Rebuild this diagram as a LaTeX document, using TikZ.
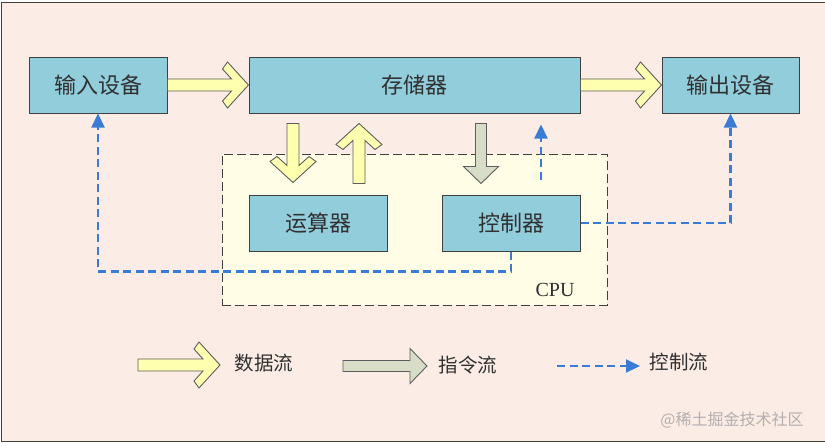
\documentclass[tikz,border=0pt]{standalone}
\usepackage{fontspec}
\setmainfont{Liberation Serif}
\newfontfamily\cjk{Noto Sans CJK SC}
\usetikzlibrary{calc,arrows.meta}
\definecolor{bgpeach}{HTML}{FBEDE5}
\definecolor{cpufill}{HTML}{FFFDE6}
\definecolor{boxblue}{HTML}{92CDDC}
\definecolor{datayellow}{HTML}{FFFFB0}
\definecolor{instrgrey}{HTML}{D8DDC8}
\definecolor{ctrlblue}{HTML}{3A7BD5}
\definecolor{edgec}{HTML}{404040}
\definecolor{txt}{HTML}{303030}
\definecolor{wmark}{HTML}{B4AEAE}
% chevron block arrow (data flow) from #2 to #3
\newcommand\chevarrow[3][]{%
  \filldraw[chev,#1] let \p1=(#2), \p2=(#3), \n1={veclen(\x2-\x1,\y2-\y1)},
    \n2={(\x2-\x1)/\n1}, \n3={(\y2-\y1)/\n1} in
    ({\x1-6*\n3},{\y1+6*\n2})
 -- ({\x2-17*\n2-6*\n3},{\y2-17*\n3+6*\n2})
 -- ({\x2-26*\n2-16*\n3},{\y2-26*\n3+16*\n2})
 -- ({\x2-21*\n2-23*\n3},{\y2-21*\n3+23*\n2})
 -- (\p2)
 -- ({\x2-21*\n2+23*\n3},{\y2-21*\n3-23*\n2})
 -- ({\x2-26*\n2+16*\n3},{\y2-26*\n3-16*\n2})
 -- ({\x2-17*\n2+6*\n3},{\y2-17*\n3-6*\n2})
 -- ({\x1+6*\n3},{\y1-6*\n2}) -- cycle;}
% triangular block arrow (instruction flow) from #2 to #3
\newcommand\blockarrow[3][]{%
  \filldraw[instr,#1] let \p1=(#2), \p2=(#3), \n1={veclen(\x2-\x1,\y2-\y1)},
    \n2={(\x2-\x1)/\n1}, \n3={(\y2-\y1)/\n1} in
    ({\x1-5.5*\n3},{\y1+5.5*\n2})
 -- ({\x2-17*\n2-5.5*\n3},{\y2-17*\n3+5.5*\n2})
 -- ({\x2-17*\n2-17.5*\n3},{\y2-17*\n3+17.5*\n2})
 -- (\p2)
 -- ({\x2-17*\n2+17.5*\n3},{\y2-17*\n3-17.5*\n2})
 -- ({\x2-17*\n2+5.5*\n3},{\y2-17*\n3-5.5*\n2})
 -- ({\x1+5.5*\n3},{\y1-5.5*\n2}) -- cycle;}
\tikzset{
  unit/.style={draw=edgec, line width=1pt, fill=boxblue, minimum height=56pt,
    inner sep=0pt, font=\cjk\fontsize{22}{26}\selectfont, text=txt},
  chev/.style={draw=edgec!85, fill=datayellow, line width=0.9pt, line join=miter},
  instr/.style={draw=edgec!85, fill=instrgrey, line width=0.9pt, line join=miter},
  ctrl/.style={draw=ctrlblue, line width=2.2pt, dash pattern=on 8pt off 4.5pt,
    -{Triangle[length=14pt,width=13pt]}},
  cpubox/.style={draw=edgec, dash pattern=on 9pt off 4pt, line width=1pt, fill=cpufill,
    inner sep=0pt},
  legend/.style={font=\cjk\fontsize{19.5}{23}\selectfont, text=txt},
}
\begin{document}
\begin{tikzpicture}[x=1pt,y=-1pt]
\useasboundingbox (0,0) rectangle (825,445);
% background frame
\fill[bgpeach] (1.5,2.5) rectangle (825,441.5);
\draw[edgec, line width=1pt] (825,2.5) -- (1.5,2.5) -- (1.5,441.5) -- (825,441.5);
% CPU area
\node[cpubox, minimum width=385pt, minimum height=151pt] (cpu) at (414.5,229.5) {};
\node[anchor=center, font=\fontsize{20}{22}\selectfont, text=txt] (cpulbl) at (555,290) {CPU};
% units
\node[unit, minimum width=138pt] (in)  at (98,85)    {输入设备};
\node[unit, minimum width=331pt] (mem) at (414.5,85) {存储器};
\node[unit, minimum width=137pt] (out) at (730.5,85) {输出设备};
\node[unit, minimum width=138pt] (alu) at (318,223)  {运算器};
\node[unit, minimum width=138pt] (ctl) at (511,223)  {控制器};
% helper coordinates
\coordinate (d1s) at ($(alu.north)+(-25,-82)$);
\coordinate (d1e) at ($(alu.north)+(-25,-12)$);
\coordinate (u1s) at ($(alu.north)+(41,-11)$);
\coordinate (u1e) at ($(u1s |- mem.south)+(0,10)$);
\coordinate (g1s) at ($(ctl.north)+(-30,-72)$);
\coordinate (g1e) at ($(ctl.north)+(-30,-11)$);
\coordinate (c1s) at ($(ctl.north)+(30,-15)$);
\coordinate (c1e) at ($(c1s |- mem.south)+(0,11)$);
% control flow (dashed blue)
\draw[ctrl] (c1s) -- (c1e);
\draw[ctrl] (ctl.east) -| (out.south);
\draw[ctrl] (ctl.south) -- ++(0,20) -| (in.south);
% data flow
\chevarrow{in.east}{mem.west}
\chevarrow{mem.east}{out.west}
\chevarrow{$(d1s |- mem.south)+(0,10)$}{d1e}
\chevarrow{u1s}{u1e}
% instruction flow
\blockarrow{$(g1s |- mem.south)+(0,10)$}{g1e}
% legend
\coordinate (l1s) at (138,365);
\coordinate (l1e) at (220,365);
\chevarrow{l1s}{l1e}
\node[legend] (l1t) at (264,363) {数据流};
\coordinate (l2s) at (343,366);
\coordinate (l2e) at (427,366);
\blockarrow{l2s}{l2e}
\node[legend] (l2t) at (468,365) {指令流};
\coordinate (l3s) at (557,366);
\coordinate (l3e) at (640,366);
\draw[ctrl] (l3s) -- (l3e);
\node[legend] (l3t) at (679,362) {控制流};
% watermark
\node[font=\cjk\fontsize{16}{19}\selectfont, text=wmark] (wm) at (732,420) {@稀土掘金技术社区};
\end{tikzpicture}
\end{document}
